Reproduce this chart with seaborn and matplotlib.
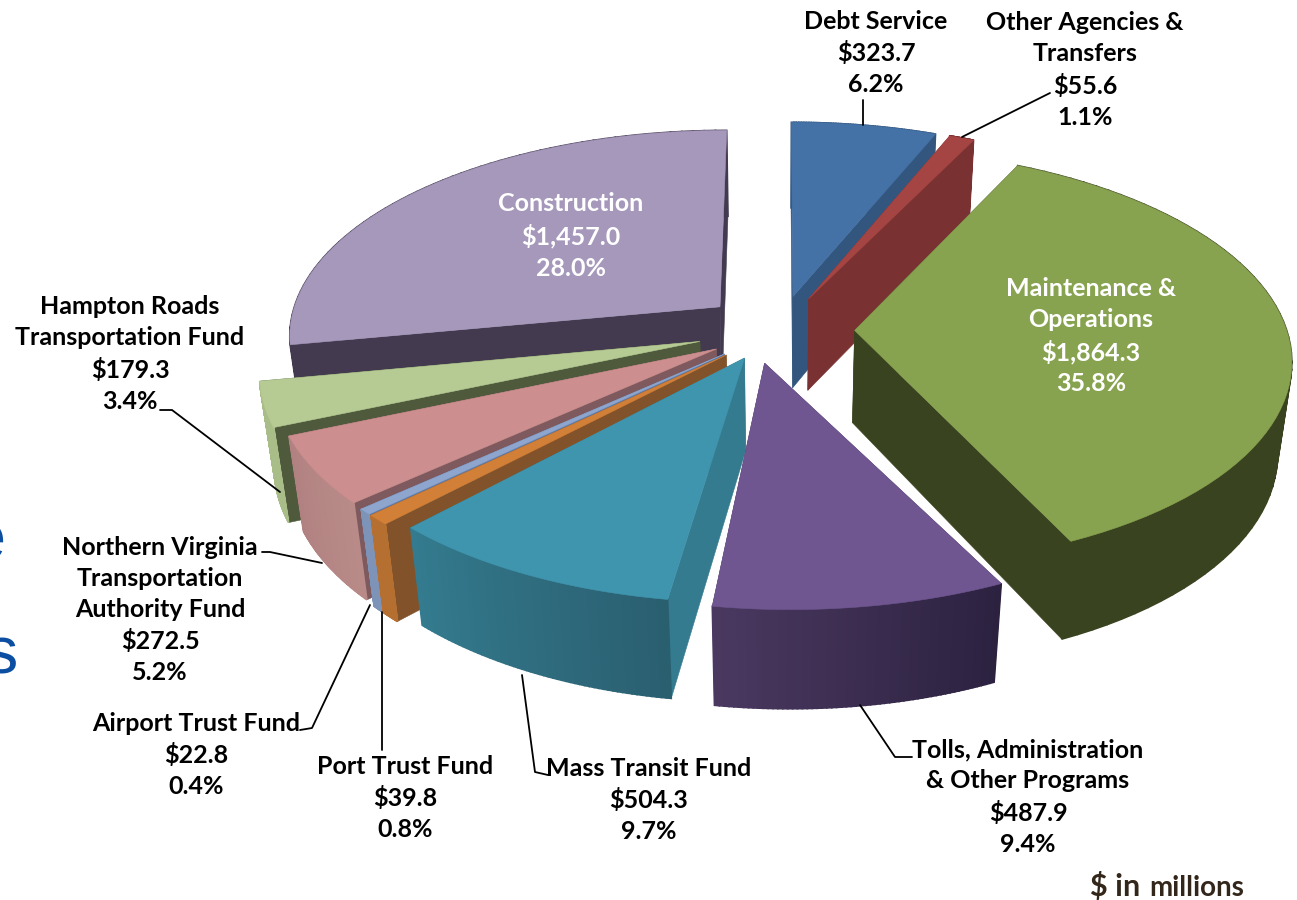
import numpy as np
import seaborn as sns
import matplotlib
matplotlib.use("Agg")
import matplotlib.pyplot as plt

sns.set_theme(style="white")
plt.rcParams['font.family'] = ['Lato', 'DejaVu Sans']

names = ["Debt Service", "Other Agencies &\nTransfers", "Maintenance &\nOperations",
         "Tolls, Administration\n& Other Programs", "Mass Transit Fund", "Port Trust Fund",
         "Airport Trust Fund", "Northern Virginia\nTransportation\nAuthority Fund",
         "Hampton Roads\nTransportation Fund", "Construction"]
values = [323.7, 55.6, 1864.3, 487.9, 504.3, 39.8, 22.8, 272.5, 179.3, 1457.0]
amounts = ["$323.7", "$55.6", "$1,864.3", "$487.9", "$504.3", "$39.8", "$22.8", "$272.5", "$179.3", "$1,457.0"]
shares = ["6.2%", "1.1%", "35.8%", "9.4%", "9.7%", "0.8%", "0.4%", "5.2%", "3.4%", "28.0%"]

explode = [0.17, 0.17, 0.175, 0.16, 0.15, 0.17, 0.17, 0.17, 0.19, 0.18]
apex_dx = [0, 0, 0, -0.055, -0.012, 0, 0, 0, 0, 0]
tops = ["#4472a6", "#a54543", "#88a350", "#6f5690", "#3f95ae", "#d27f38", "#8ea5cd", "#cc8e8e", "#b6cb94", "#a698bb"]
radial = ["#33567f", "#7a3131", "#3a431f", "#4a3860", "#347b8f", "#82532a", "#5f7aa5", "#7e5a5e", "#4f5a3c", "#433a50"]
arc_a = ["#33567f", "#7a3131", "#3a431f", "#4a3860", "#347b8f", "#b56f30", "#7e93b8", "#b08180", "#a9bd88", "#433a50"]
arc_b = ["#33567f", "#7a3131", "#3a431f", "#2c2240", "#2a5f70", "#b56f30", "#7e93b8", "#b88a88", "#a9bd88", "#433a50"]
draw_order = [9, 0, 1, 2, 8, 7, 6, 5, 4, 3]

label_x = [876, 1085, 1091, 1028, 649, 405, 196, 160, 130, 571]
label_y = [53, 70, 336, 797, 800, 798, 755, 610, 354, 236]
label_colors = ["black", "black", "white", "black", "black", "black", "black", "black", "black", "white"]

leaders = [[(863, 100), (863, 125)], [(1050, 93), (962, 137)],
           [(912, 757), (895, 757), (860, 705)], [(548, 775), (535, 772), (522, 675)],
           [(382, 750), (382, 612)], [(300, 730), (312, 728), (370, 605)],
           [(262, 552), (270, 552), (322, 563)], [(160, 410), (172, 410), (280, 492)]]

# ground plane -> screen pixels, H is the depth below the top face
cx, cy, a, b, k, m = 779, 330, 432, 205, 0.13, 0.0003
height = 95


def project(X, Y, H=0.0):
    w = 1 + k * Y + m * H
    return cx + a * X / w, cy - (b * Y - H) / w


def quad(ax, xs, ys, color, lw=0.4):
    ax.fill(xs, ys, color=color, lw=lw, ec=color)


# let pie work out the angles and exploded centres
pie_fig, pie_ax = plt.subplots()
wedges, _ = pie_ax.pie(values, explode=explode, startangle=90, counterclock=False)
plt.close(pie_fig)

fig = plt.figure(figsize=(12.97, 9), dpi=100)
ax = fig.add_axes([0, 0, 1, 1])
ax.set_xlim(0, 1297)
ax.set_ylim(900, 0)
ax.axis("off")

for i in draw_order:
    wd = wedges[i]
    x0, y0 = wd.center
    t = np.radians(np.linspace(wd.theta1, wd.theta2, 60))
    ex, ey = wd.center[0] + np.cos(t), y0 + np.sin(t)
    x0 = x0 + apex_dx[i]

    # radial walls
    for j in (0, -1):
        xs = [x0, ex[j], ex[j], x0]
        ys = [y0, ey[j], ey[j], y0]
        hs = [0, 0, height, height]
        px, py = zip(*[project(p, q, h) for p, q, h in zip(xs, ys, hs)])
        quad(ax, px, py, radial[i])

    # outer wall, split up for the shading
    shades = sns.blend_palette([arc_a[i], arc_b[i]], len(t) - 1)
    for j in range(len(t) - 1):
        px, py = zip(*[project(ex[n], ey[n], h) for n, h in ((j, 0), (j + 1, 0), (j + 1, height), (j, height))])
        quad(ax, px, py, shades[j], lw=1.2)

    # top face
    px, py = project(np.r_[x0, ex], np.r_[y0, ey])
    quad(ax, px, py, tops[i])

for pts in leaders:
    ax.plot(*zip(*pts), color="black", lw=1.3)

for i in range(len(values)):
    ax.text(label_x[i], label_y[i], f"{names[i]}\n{amounts[i]}\n{shares[i]}", ha="center", va="center",
            fontsize=18, fontweight="bold", color=label_colors[i], linespacing=1.42)

for frag, fx, fy in [("s", 1.5, 15), ("e", 5, 560), ("s", 17, 673)]:
    ax.text(fx, fy, frag, ha="right", va="baseline", fontsize=48, color="#0b4ea2",
            family="Liberation Sans", clip_on=True)

ax.text(1090, 896, "$ in", fontsize=22, fontweight="bold", color="#33261a", va="baseline")
ax.text(1149, 896, "millions", fontsize=20, fontweight="bold", color="#33261a", va="baseline")

fig.savefig("out.png", dpi=100)
